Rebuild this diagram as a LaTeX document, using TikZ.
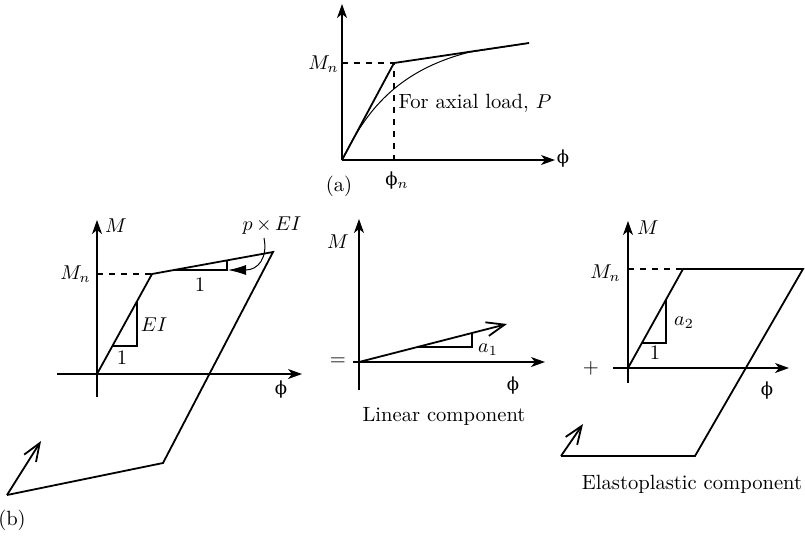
\documentclass[tikz,border=0pt]{standalone}
\usepackage{amsmath}
\usepackage{amssymb}
\usepackage{fontspec}
\newfontfamily\phifont{DejaVu Serif}
\usepackage{tikz}
\usetikzlibrary{positioning,arrows.meta}

\newcommand{\phisym}{{\phifont\small ϕ}}

\begin{document}
\begin{tikzpicture}[x=0.5pt,y=-0.5pt,
    axis/.style={line width=0.6pt,-{Stealth[length=7pt,width=5pt,inset=2pt]}},
    loop/.style={line width=0.9pt,line join=miter},
    slope/.style={line width=0.6pt},
    openarrow/.style={line width=0.9pt,-{Straight Barb[length=9pt,width=7pt]}},
    lbl/.style={inner sep=1pt,font=\fontsize{10.3}{12}\selectfont}]
    \useasboundingbox (0,0) rectangle (805,538);

    % (a) Curva momento-curvatura
    \draw[axis] (342,160) -- (342,4);
    \draw[axis] (342,160) -- (555,160);
    \draw[dashed,slope] (342,63) -- (394,63) -- (394,160);
    \draw[loop] (342,160) -- (394,63) -- (529,43);
    \draw[line width=0.5pt] (342,160) .. controls (362,120) and (390,72) .. (470,52) -- (529,43);
    \node[lbl,left] (mna) at (341,64) {$M_n$};
    \node[lbl] (phina) at (397,181) {\phisym$_n$};
    \node[lbl] (phia) at (563,159) {\phisym};
    \node[lbl] (axial) at (475,103) {For axial load, $P$};
    \node[lbl] (capa) at (339,186) {(a)};

    % (b) Modelo bilineal
    \draw[axis] (97,397) -- (97,220);
    \draw[axis] (57,374) -- (302,374);
    \draw[dashed,slope] (97,274) -- (152,274);
    \draw[loop] (97,374) -- (152,274) -- (273,252) -- (163,463) -- (7,495);
    \draw[openarrow] (7,495) -- (41,441);
    \draw[slope] (112.4,346) -- (137,346) -- (137,301);
    \draw[slope] (174,270) -- (227,270) -- (227,260.4);
    \node[lbl] (mb) at (116,226) {$M$};
    \node[lbl,left] (mnb) at (93,274) {$M_n$};
    \node[lbl] (phib) at (281,390) {\phisym};
    \node[lbl] (eib) at (154,325) {$EI$};
    \node[lbl] (oneb) at (122,358) {1};
    \node[lbl] (twob) at (200,285) {1};
    \node[lbl] (pei) at (272,226) {$p\mkern-1mu\times\mkern-1mu EI$};
    \draw[line width=0.5pt,-{Latex[length=9pt,width=5pt]}] (264,238) .. controls (268,258) and (258,270) .. (228,270);
    \node[lbl] (capb) at (12,520) {(b)};

    % Componente lineal
    \draw[axis] (359,390) -- (359,219);
    \draw[axis] (353,362) -- (545,362);
    \draw[openarrow] (359,362) -- (507,324);
    \draw[slope] (417.4,347) -- (472,347) -- (472,333);
    \node[lbl] (mc) at (338,242) {$M$};
    \node[lbl] (eq) at (338,362) {=};
    \node[lbl] (a1) at (488,350) {$a_1$};
    \node[lbl] (phic) at (513,386) {\phisym};
    \node[lbl] (lin) at (444,416) {Linear component};

    % Componente elastoplastica
    \draw[axis] (628,383) -- (628,221);
    \draw[axis] (613,368) -- (789,368);
    \draw[dashed,slope] (628,269) -- (683,269);
    \draw[loop] (628,368) -- (683,269) -- (803,269) -- (695,456) -- (561,456);
    \draw[openarrow] (561,456) -- (583,424);
    \draw[slope] (642,343) -- (666,343) -- (666,299.6);
    \node[lbl] (md) at (648,228) {$M$};
    \node[lbl,left] (mnd) at (623,273) {$M_n$};
    \node[lbl] (plus) at (591,368) {+};
    \node[lbl] (a2) at (684,323) {$a_2$};
    \node[lbl] (oned) at (655,353) {1};
    \node[lbl] (phid) at (767,391) {\phisym};
    \node[lbl] (ep) at (692,484) {Elastoplastic component};
\end{tikzpicture}
\end{document}
